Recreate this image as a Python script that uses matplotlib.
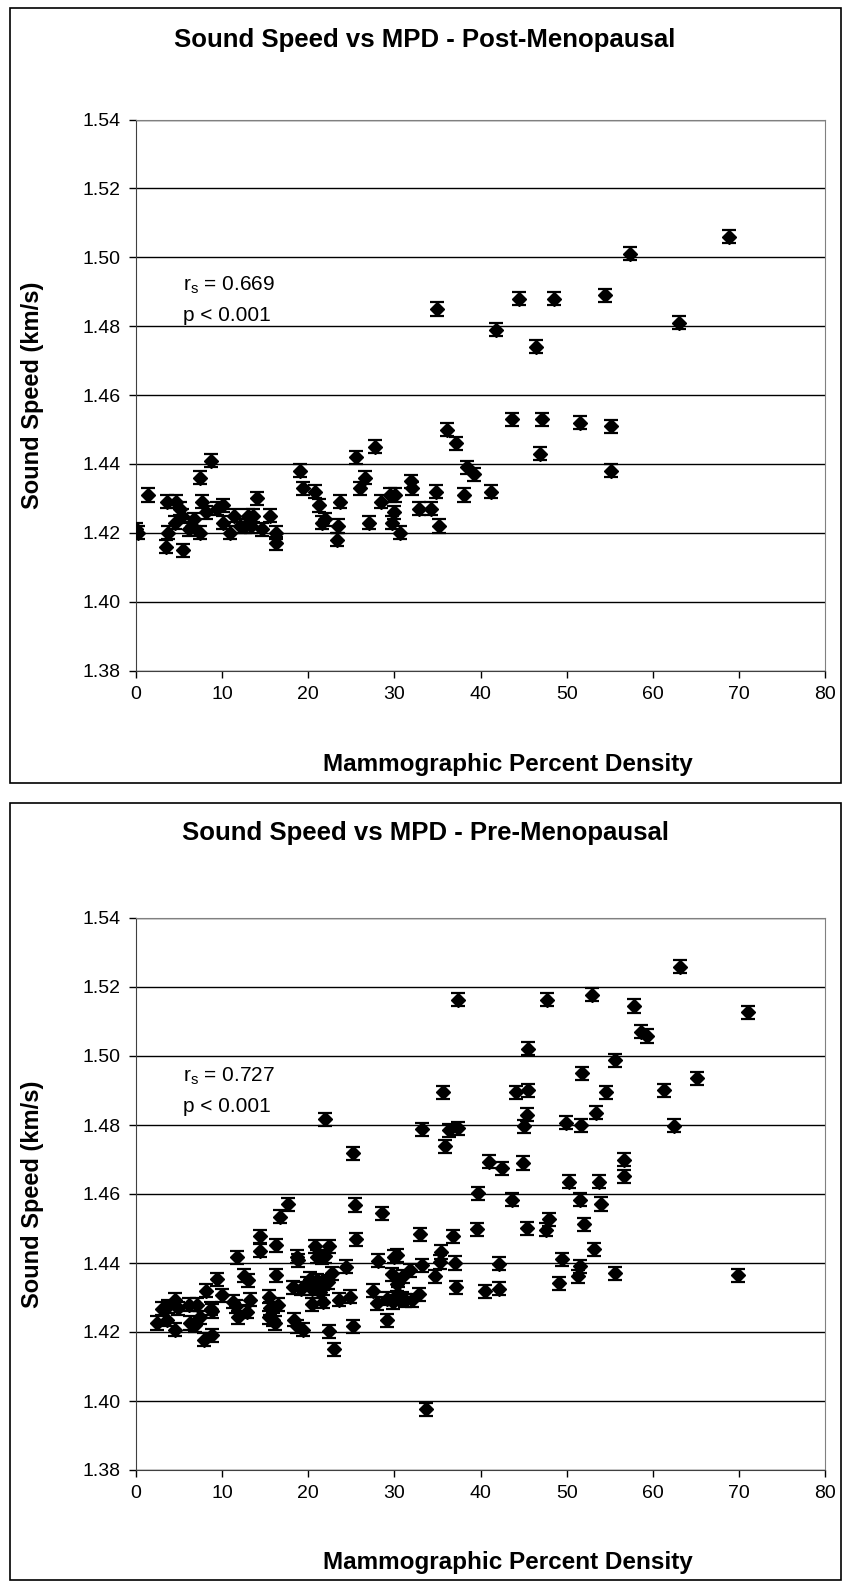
import numpy as np
import matplotlib
matplotlib.use("Agg")
import matplotlib.pyplot as plt
from matplotlib.patches import Rectangle

plt.rcParams['font.family'] = ['Liberation Sans', 'DejaVu Sans']

# --- Data ---
post_mpd = [0.0, 0.2, 1.4, 3.5, 3.7, 3.6, 4.7, 4.5, 5.1, 5.3, 5.4, 6.1, 6.5, 6.7,
            7.4, 7.4, 7.7, 8.1, 8.7, 9.4, 10.1, 10.1, 10.9, 11.4, 12.1, 12.7, 13.0,
            13.4, 13.6, 14.0, 14.6, 15.6, 16.3, 16.3, 19.0, 19.4, 20.8, 21.2, 21.6,
            21.9, 23.3, 23.5, 23.7, 25.6, 26.0, 26.6, 27.0, 27.8, 28.5, 29.5, 30.1,
            29.9, 29.7, 30.6, 31.9, 32.1, 32.9, 34.3, 34.8, 35.2, 34.9, 36.1, 37.2,
            38.4, 39.2, 38.1, 41.2, 41.8, 43.7, 44.5, 46.4, 46.9, 47.1, 48.5, 51.6,
            54.5, 55.2, 55.2, 57.4, 63.0, 68.8]
post_ss = [1.421, 1.420, 1.431, 1.416, 1.420, 1.429, 1.429, 1.423, 1.427, 1.425,
           1.415, 1.421, 1.422, 1.424, 1.420, 1.436, 1.429, 1.426, 1.441, 1.427,
           1.428, 1.423, 1.420, 1.425, 1.422, 1.422, 1.425, 1.422, 1.425, 1.430,
           1.421, 1.425, 1.420, 1.417, 1.438, 1.433, 1.432, 1.428, 1.423, 1.424,
           1.418, 1.422, 1.429, 1.442, 1.433, 1.436, 1.423, 1.445, 1.429, 1.431,
           1.431, 1.426, 1.423, 1.420, 1.435, 1.433, 1.427, 1.427, 1.432, 1.422,
           1.485, 1.450, 1.446, 1.439, 1.437, 1.431, 1.432, 1.479, 1.453, 1.488,
           1.474, 1.443, 1.453, 1.488, 1.452, 1.489, 1.451, 1.438, 1.501, 1.481,
           1.506]

pre_mpd = [2.4, 3.0, 3.6, 3.75, 4.5, 4.9, 4.5, 6.1, 7.05, 6.3, 6.85, 7.4, 7.9, 8.8,
           8.1, 8.7, 8.8, 9.4, 9.95, 11.3, 11.6, 11.9, 11.7, 12.5, 13.0, 13.2, 12.85,
           14.4, 14.4, 16.3, 16.3, 15.4, 15.6, 15.4, 15.9, 16.1, 16.5, 16.7, 17.7,
           18.2, 18.35, 18.65, 19.4, 18.7, 18.8, 19.2, 19.8, 20.2, 20.4, 20.8, 21.0,
           21.4, 21.75, 22.3, 22.8, 20.4, 21.7, 20.8, 22.45, 21.0, 21.6, 21.9, 21.95,
           24.4, 23.6, 24.85, 25.2, 22.45, 23.0, 25.2, 25.4, 25.5, 27.5, 28.0, 28.1,
           28.6, 29.1, 29.8, 29.7, 29.9, 30.3, 30.3, 30.45, 30.85, 31.0, 31.2, 31.8,
           32.0, 32.9, 33.2, 29.2, 33.0, 33.2, 33.7, 34.7, 35.3, 35.4, 35.7, 35.9,
           36.3, 36.8, 37.0, 37.1, 37.4, 37.4, 39.6, 39.7, 40.5, 41.0, 42.1, 42.1,
           42.5, 43.7, 44.1, 44.9, 45.1, 45.4, 45.4, 45.55, 45.5, 47.6, 47.7, 48.0,
           49.15, 49.5, 49.9, 50.3, 51.3, 51.6, 51.5, 51.7, 51.8, 52.0, 53.0, 53.2,
           53.4, 53.8, 54.0, 54.6, 55.6, 55.6, 56.7, 56.7, 57.8, 58.6, 59.3, 61.3,
           62.5, 63.2, 65.1, 69.9, 71.1]
pre_ss = [1.4226, 1.4267, 1.4235, 1.4274, 1.4293, 1.4269, 1.4207, 1.4279, 1.4279,
          1.4226, 1.4219, 1.4243, 1.4178, 1.4190, 1.4320, 1.4267, 1.4261, 1.4353,
          1.4307, 1.4288, 1.4274, 1.4243, 1.4416, 1.4363, 1.4350, 1.4293, 1.4259,
          1.4478, 1.4435, 1.4452, 1.4365, 1.4302, 1.4269, 1.4243, 1.4236, 1.4226,
          1.4279, 1.4534, 1.4570, 1.4329, 1.4236, 1.4216, 1.4207, 1.4418, 1.4408,
          1.4326, 1.4341, 1.4355, 1.4326, 1.4336, 1.4350, 1.4317, 1.4341, 1.4345,
          1.4370, 1.4281, 1.4288, 1.4449, 1.4449, 1.4418, 1.4416, 1.4420, 1.4817,
          1.4389, 1.4293, 1.4302, 1.4216, 1.4202, 1.4150, 1.4718, 1.4568, 1.4469,
          1.4320, 1.4283, 1.4406, 1.4544, 1.4297, 1.4287, 1.4367, 1.4418, 1.4423,
          1.4339, 1.4311, 1.4297, 1.4361, 1.4292, 1.4379, 1.4292, 1.4309, 1.4393,
          1.4234, 1.4483, 1.4787, 1.3976, 1.4361, 1.4403, 1.4432, 1.4895, 1.4738,
          1.4785, 1.4478, 1.4400, 1.4329, 1.4790, 1.5163, 1.4498, 1.4602, 1.4318,
          1.4694, 1.4326, 1.4398, 1.4675, 1.4583, 1.4895, 1.4690, 1.4796, 1.4830,
          1.4501, 1.4901, 1.5021, 1.4496, 1.5163, 1.4527, 1.4341, 1.4411, 1.4806,
          1.4636, 1.4362, 1.4391, 1.4583, 1.4799, 1.4950, 1.4512, 1.5177, 1.4440,
          1.4835, 1.4636, 1.4571, 1.4895, 1.4987, 1.4370, 1.4700, 1.4651, 1.5145,
          1.5070, 1.5058, 1.4901, 1.4798, 1.5259, 1.4935, 1.4364, 1.5127]

err = 0.0019
x_ticks = [0, 10, 20, 30, 40, 50, 60, 70, 80]
y_ticks = [1.38, 1.40, 1.42, 1.44, 1.46, 1.48, 1.50, 1.52, 1.54]

W, H = 843, 1583
fig = plt.figure(figsize=(W / 100, H / 100), dpi=100)


def px_axes(l, t, r, b):
    return fig.add_axes([l / W, 1 - b / H, (r - l) / W, (b - t) / H])


def draw_chart(box, plot, title, xs, ys, rs, title_y, xlab_y, note_y):
    # outer chart border
    bl, bt, br, bb = box
    fig.patches.append(Rectangle((bl / W, 1 - bb / H), (br - bl) / W, (bb - bt) / H,
                                 transform=fig.transFigure, fill=False,
                                 edgecolor='black', linewidth=1.2))
    ax = px_axes(*plot)
    ax.errorbar(xs, ys, yerr=err, fmt='D', color='black', markersize=7,
                ecolor='black', elinewidth=1.2, capsize=5, capthick=1.6, zorder=3)
    ax.set_xlim(0, 80)
    ax.set_ylim(1.38, 1.54)
    ax.set_xticks(x_ticks)
    ax.set_yticks(y_ticks)
    ax.set_yticklabels([f'{v:.2f}' for v in y_ticks])
    ax.tick_params(labelsize=14, direction='out', length=5, width=1, pad=6)
    ax.yaxis.grid(True, color='black', linewidth=1)
    ax.set_axisbelow(True)
    for s in ['top', 'right']:
        ax.spines[s].set_color('#808080')
    for s in ['left', 'bottom']:
        ax.spines[s].set_color('#404040')
    ax.text(0.068, note_y, 'r$_\\mathregular{s}$ = ' + rs, transform=ax.transAxes,
            fontsize=15, va='center')
    ax.text(0.068, note_y - 0.056, 'p < 0.001', transform=ax.transAxes,
            fontsize=15, va='center')
    fig.text(425 / W, 1 - title_y / H, title, ha='center', va='center',
             fontsize=18.5, fontweight='bold')
    fig.text(508 / W, 1 - xlab_y / H, 'Mammographic Percent Density', ha='center',
             va='center', fontsize=17.5, fontweight='bold')
    fig.text(33 / W, 1 - (plot[1] + plot[3]) / 2 / H, 'Sound Speed (km/s)', ha='center',
             va='center', rotation=90, fontsize=17, fontweight='bold')
    return ax


draw_chart((10, 8, 841, 783), (136, 119.5, 825, 670.7),
           'Sound Speed vs MPD - Post-Menopausal', post_mpd, post_ss, '0.669',
           40, 764, 0.7)
draw_chart((10, 803, 841, 1580), (136, 918, 825, 1470),
           'Sound Speed vs MPD - Pre-Menopausal', pre_mpd, pre_ss, '0.727',
           833, 1562, 0.714)

fig.savefig('out.png', dpi=100)
